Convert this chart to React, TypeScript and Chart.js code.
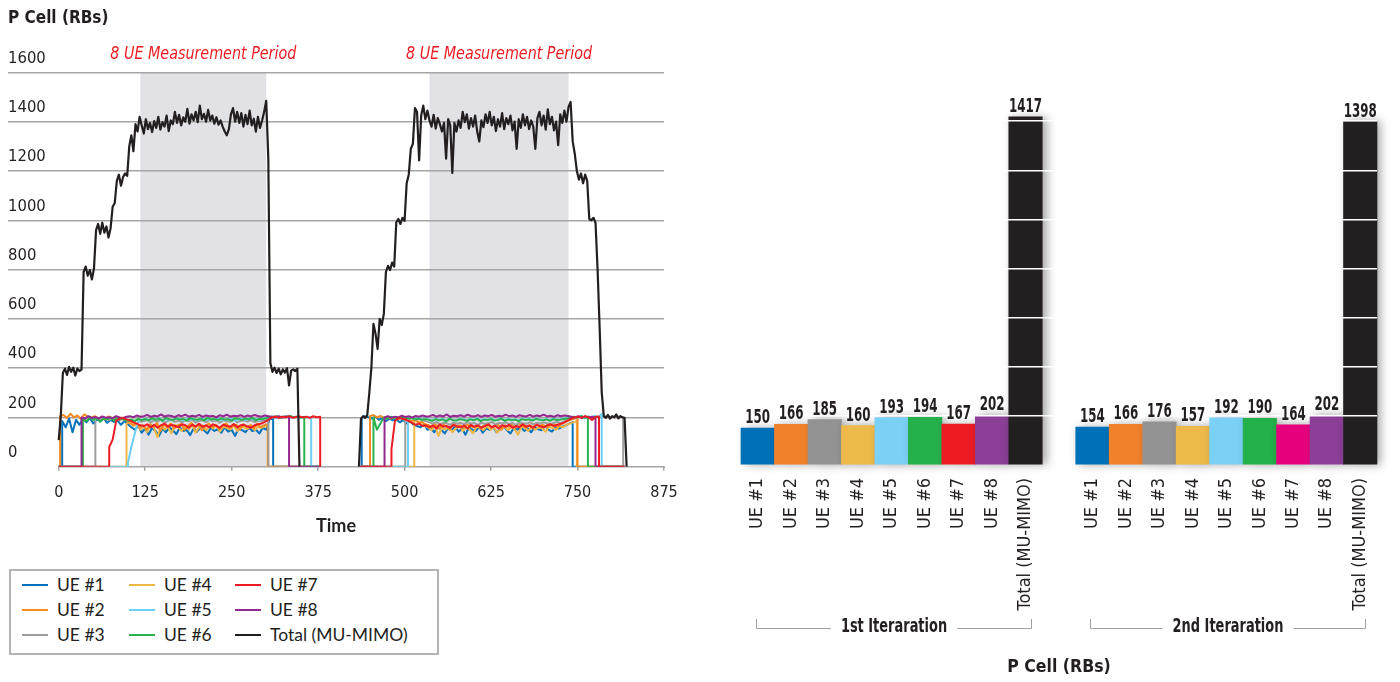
import React, { useEffect, useRef } from "react";
import { Chart, registerables } from "chart.js";

Chart.register(...registerables);

// ---------- fonts & colours ----------
const NARROW = "'Liberation Sans Narrow', 'Arial Narrow', 'DejaVu Sans Condensed', sans-serif";
const LATO = "Lato, 'Open Sans', sans-serif";
const INK = "#231f20";
const GRID = "#a5a5a5";
const SHADE = "#e1e1e6";
const RED_NOTE = "#ed1c24";

// ---------- series names & colours ----------
const UE_NAMES = ["UE #1", "UE #2", "UE #3", "UE #4", "UE #5", "UE #6", "UE #7", "UE #8"];
const TOTAL_NAME = "Total (MU-MIMO)";
const LINE_COLORS = ["#0072bc", "#f68b1f", "#9d9d9d", "#eeb645", "#6dcff6", "#2bb24c", "#ed1c24", "#92278f"];
const TOTAL_COLOR = "#231f20";
// drawing priority of the UE lines (lower = drawn on top)
const LINE_ORDER = [8, 6, 5, 7, 4, 3, 1, 2];

// ---------- time axis ----------
const TIME_MIN = -73.3;
const TIME_MAX = 875;
const TIME_TICKS = [0, 125, 250, 375, 500, 625, 750, 875];
const MEASUREMENT_PERIODS = [[118, 300], [536, 737]];
const MEASUREMENT_LABEL = "8 UE Measurement Period";
const ITERATION_WINDOWS = [[0, 378], [436, 818]];

// ---------- Total (MU-MIMO), sampled every 3 time units ----------
const TOTAL_STEP = 3;
const TOTAL_RUN_1_START = 0;
const TOTAL_RUN_1 = [
  108, 205, 380, 398, 372, 405, 385, 402, 370, 398, 388, 395,
  790, 812, 775, 798, 760, 805,
  960, 985, 945, 990, 950, 975, 930, 968,
  1055, 1070, 1160, 1185, 1140, 1175, 1190, 1180,
  1300, 1345, 1280, 1390, 1360, 1420,
  1385, 1352, 1410, 1370, 1395, 1358, 1402, 1375, 1420, 1368,
  1398, 1380, 1425, 1362, 1405, 1390, 1440, 1395, 1428, 1385,
  1418, 1400, 1452, 1392, 1430, 1405, 1440, 1398, 1465, 1410,
  1432, 1400, 1448, 1405, 1425, 1392, 1418, 1388, 1405, 1380,
  1360, 1345, 1370, 1430, 1455, 1400, 1440, 1395, 1435, 1380,
  1428, 1390, 1445, 1385, 1412, 1360, 1420, 1375, 1405, 1440,
  1485,
  1250, 420, 385, 402, 380, 398, 375, 395, 382, 400, 330, 390, 395, 388, 398, 0,
];
const TOTAL_RUN_2_START = 434;
const TOTAL_RUN_2 = [
  0,
  195, 205, 198, 208, 300, 402, 580, 540, 478, 600,
  575, 620, 790, 815, 798, 828, 812, 992, 1005, 985,
  1010, 998, 1150, 1185, 1290, 1310, 1455, 1440, 1243, 1425,
  1465, 1410, 1445,
  1405, 1380, 1428, 1372, 1415, 1390, 1360, 1395, 1250, 1410,
  1385, 1192, 1395, 1360, 1405, 1375, 1440, 1398, 1430, 1372,
  1415, 1380, 1425, 1360, 1320, 1405, 1378, 1430, 1395, 1440,
  1385, 1420, 1362, 1410, 1380, 1435, 1370, 1415, 1390, 1425,
  1365, 1400, 1290, 1410, 1375, 1430, 1385, 1420, 1370, 1405,
  1380, 1290, 1415, 1440, 1385, 1425, 1368, 1450, 1390, 1420,
  1365, 1400, 1305, 1430, 1395, 1445, 1400, 1460, 1480,
  1320, 1270, 1200, 1165, 1190, 1150, 1185, 1160, 1005, 1000,
  1010, 990, 800, 560, 300, 205, 198, 210, 195, 205,
  200, 212, 196, 205, 200, 198,
  0,
];

// ---------- per-UE resource blocks, sampled every 5 time units ----------
const UE_STEP = 5;
const UE_STARTS_ITER_1 = [5, 2, 53, 98, 100, 35, 73, 33];
const UE_STARTS_ITER_2 = [438, 450, 501, 514, 505, 455, 481, 471];

const UE1_ITER_1 = [
  185, 160, 195, 140, 190, 170, 195, 180, 198, 175,
  192, 185, 196, 178, 190, 182, 188, 170, 185, 172,
  160, 150, 165, 138, 155, 130, 158, 145, 125, 155,
  140, 160, 148, 132, 158, 145, 150, 128, 155, 142,
  160, 148, 135, 158, 145, 152, 138, 160, 142, 150,
  125, 155, 148, 140, 158, 145, 150, 135, 158, 150,
  195, 192,
];
const UE2_ITER_1 = [
  205, 210, 198, 215, 200, 208, 195, 212, 203, 198,
  205, 196, 200, 192, 204, 198, 190, 200, 195, 188,
  180, 170, 175, 160,
  168, 150, 172, 160, 178, 145, 170, 162, 175, 155,
  168, 172, 150, 165, 178, 158, 170, 148, 165, 175,
  160, 170, 152, 168, 176, 158, 165, 170, 150, 172,
  162, 168, 155, 175, 160, 168, 172,
];
const UE3_ITER_1 = [
  198, 192, 200, 195, 190, 198, 194, 188, 196, 192,
  188, 185, 190, 182,
  185, 190, 180, 188, 183, 192, 178, 186, 190, 182,
  187, 180, 189, 184, 191, 179, 186, 188, 181, 190,
  184, 187, 178, 189, 185, 182, 191, 180, 186, 188,
  183, 190, 181, 187, 185, 189, 192,
];
const UE4_ITER_1 = [
  175, 180, 165, 172, 150,
  165, 140, 172, 155, 120, 168, 150, 162, 135, 170,
  158, 145, 166, 152, 172, 138, 160, 168, 148, 165,
  155, 170, 142, 162, 158, 150, 168, 145, 165, 160,
  152, 170, 148, 162, 158, 165, 168,
];
const UE5_ITER_1 = [
  15, 80, 135, 185, 190,
  195, 188, 193, 190, 196, 186, 194, 191, 189, 197,
  192, 188, 195, 190, 193, 187, 196, 192, 189, 194,
  191, 197, 188, 193, 190, 195, 186, 192, 194, 189,
  196, 191, 193, 188, 195, 198,
  200, 205, 198, 203, 200, 206, 199, 202, 204, 198, 203, 200, 202,
];
const UE6_ITER_1 = [
  195, 185, 200, 190, 198, 182, 196, 192, 200, 188, 197, 193, 190, 186,
  192, 185, 195, 188,
  194, 188, 197, 190, 195, 186, 198, 192, 189, 196,
  191, 194, 187, 197, 193, 190, 195, 188, 198, 192,
  194, 189, 196, 191, 193, 187, 197, 194, 190, 195,
  192, 198, 188, 195, 193, 197,
  203, 200, 205, 198, 204, 201, 206, 199, 203, 200, 202,
];
const UE7_ITER_1 = [
  80, 110, 185, 195, 198, 192, 188, 180, 175, 168,
  165, 172, 160, 170, 158, 168, 175, 162, 170, 165,
  160, 172, 168, 158, 170, 164, 174, 162, 168, 160,
  172, 166, 158, 170, 165, 162, 173, 160, 168, 170,
  163, 158, 168, 172, 175, 182, 190,
  200, 204, 198, 203, 200, 205, 199, 202, 204, 200, 203, 198, 205, 201, 203,
];
const UE8_ITER_1 = [
  200, 195, 205, 198, 202, 196, 204, 199, 201, 197, 205, 200, 198, 203,
  205, 200, 208, 203,
  205, 210, 202, 207, 204, 212, 203, 208, 206, 201,
  209, 205, 211, 203, 207, 204, 210, 202, 208, 205,
  206, 200, 209, 204, 211, 203, 207, 205, 209, 202,
  208, 204, 210, 206, 203, 208, 205,
  203, 200, 205, 199, 204, 201,
];

const UE1_ITER_2 = [
  198, 205, 200, 195, 203, 190, 198, 185, 195, 188, 192, 180, 190, 175, 185, 170,
  165, 160, 172, 150,
  155, 140, 162, 150, 135, 158, 148, 165, 142, 155,
  130, 160, 150, 145, 162, 138, 155, 150, 160, 140,
  152, 165, 148, 135, 158, 150, 162, 145, 155, 140,
  160, 152, 148, 165, 150, 142, 158, 155, 162, 168,
  175, 180,
];
const UE2_ITER_2 = [
  205, 210, 200, 206, 198, 203, 195, 200, 192, 198, 190, 195, 185, 190, 178, 182, 172,
  168, 160, 172, 155, 170, 165, 150, 175, 162, 168,
  158, 172, 165, 160, 170, 155, 168, 175, 160, 165,
  172, 150, 168, 162, 170, 158, 175, 165, 160, 168,
  155, 172, 165, 170, 160, 168, 175, 162, 170, 178,
  185, 190, 195, 198,
];
const UE3_ITER_2 = [
  200, 196, 198, 190, 194, 188, 185,
  180, 175, 182, 172, 178, 176, 170, 180, 174, 178,
  172, 181, 175, 177, 170, 179, 174, 176, 182, 171,
  178, 175, 180, 173, 177, 170, 179, 176, 174, 181,
  172, 178, 175, 180, 176, 173, 178, 182, 176, 185, 190,
  198, 202, 200, 205, 198, 203, 200, 206, 199, 202, 204, 198, 203, 200, 205, 199,
];
const UE4_ITER_2 = [
  195, 185, 172, 165,
  160, 148, 165, 125, 158, 150, 162, 140, 155, 168,
  145, 160, 152, 135, 162, 158, 148, 165, 150, 160,
  138, 155, 165, 148, 160, 152, 130, 162, 158, 145,
  165, 150, 160, 155, 142, 162, 158, 150, 165, 160,
  170, 175, 180, 185,
];
const UE5_ITER_2 = [
  198, 200, 195, 198, 192, 195,
  192, 188, 195, 190, 194, 186, 196, 191, 189, 195,
  192, 188, 194, 190, 196, 187, 193, 191, 195, 189,
  192, 196, 188, 194, 190, 193, 187, 195, 191, 194,
  189, 196, 192, 190, 194, 188, 195, 191, 193, 196,
  198, 200,
  203, 200, 205, 198, 204, 201, 206, 200, 215,
];
const UE6_ITER_2 = [
  200, 150, 175, 200, 195, 203, 198, 200, 196, 202, 195, 198, 192, 195, 190, 193,
  190, 186, 193, 188, 192, 184, 194, 189, 187, 193,
  190, 186, 192, 188, 194, 185, 191, 189, 193, 187,
  190, 194, 186, 192, 188, 191, 185, 193, 189, 192,
  187, 194, 190, 188, 192, 186, 193, 189, 191, 194,
  196, 198,
  203, 200, 205, 199, 202,
];
const UE7_ITER_2 = [
  70, 185, 198, 195, 192, 185, 178, 170, 175, 165, 168,
  160, 168, 155, 172, 162, 165, 158, 170, 163, 160,
  167, 155, 170, 162, 168, 158, 165, 172, 160, 166,
  155, 168, 163, 170, 158, 165, 160, 172, 162, 167,
  158, 170, 164, 160, 168, 172, 165, 170, 175, 180, 188,
  195, 200, 203, 198, 205, 200, 190, 202, 204,
];
const UE8_ITER_2 = [
  200, 205, 198, 203, 200, 207, 202, 205, 199, 206, 203, 208, 204,
  205, 210, 203, 208, 204, 212, 202, 207, 205, 209,
  203, 211, 206, 204, 209, 202, 208, 205, 210, 203,
  207, 204, 211, 205, 208, 202, 209, 206, 204, 210,
  203, 208, 205, 211, 204, 207, 202, 209, 205, 208, 206,
  203, 200, 205, 199, 204, 201, 203, 200,
];

const UE_ITER_1 = [UE1_ITER_1, UE2_ITER_1, UE3_ITER_1, UE4_ITER_1, UE5_ITER_1, UE6_ITER_1, UE7_ITER_1, UE8_ITER_1];
const UE_ITER_2 = [UE1_ITER_2, UE2_ITER_2, UE3_ITER_2, UE4_ITER_2, UE5_ITER_2, UE6_ITER_2, UE7_ITER_2, UE8_ITER_2];

// ---------- average P Cell RBs during the measurement periods ----------
const ITER_1_AVERAGES = [150, 166, 185, 160, 193, 194, 167, 202];
const ITER_1_TOTAL = 1417;
const ITER_2_AVERAGES = [154, 166, 176, 157, 192, 190, 164, 202];
const ITER_2_TOTAL = 1398;
const BAR_COLORS_1 = ["#0071b9", "#f1812a", "#939393", "#ecb94a", "#7bd0f5", "#24b04b", "#ec1c24", "#8b3f96"];
const BAR_COLORS_2 = ["#0071b9", "#f1812a", "#939393", "#ecb94a", "#7bd0f5", "#24b04b", "#e6007e", "#8b3f96"];
const GROUP_LABELS = ["1st Iteraration", "2nd Iteraration"];

// ---------- helpers ----------
type Pt = { x: number; y: number | null };

function runPoints(start: number, step: number, values: number[]): Pt[] {
  return values.map((v, i) => ({ x: start + i * step, y: v }));
}

function ueSeries(s1: number, v1: number[], s2: number, v2: number[]): Pt[] {
  const [w1, w2] = ITERATION_WINDOWS;
  const r1 = runPoints(s1, UE_STEP, v1);
  const r2 = runPoints(s2, UE_STEP, v2);
  const e1 = r1[r1.length - 1].x;
  const e2 = r2[r2.length - 1].x;
  return [
    { x: w1[0], y: 0 }, { x: s1, y: 0 }, ...r1, { x: e1, y: 0 }, { x: Math.max(e1, w1[1]), y: 0 },
    { x: (w1[1] + w2[0]) / 2, y: null },
    { x: w2[0], y: 0 }, { x: s2, y: 0 }, ...r2, { x: e2, y: 0 }, { x: Math.max(e2, w2[1]), y: 0 },
  ];
}

function totalSeries(): Pt[] {
  return [
    ...runPoints(TOTAL_RUN_1_START, TOTAL_STEP, TOTAL_RUN_1),
    { x: (ITERATION_WINDOWS[0][1] + ITERATION_WINDOWS[1][0]) / 2, y: null },
    ...runPoints(TOTAL_RUN_2_START, TOTAL_STEP, TOTAL_RUN_2),
  ];
}

// text squeezed horizontally to mimic a condensed face
function fillCondensed(ctx: CanvasRenderingContext2D, text: string, x: number, y: number, sx: number) {
  ctx.save();
  ctx.translate(x, y);
  ctx.scale(sx, 1);
  ctx.fillText(text, 0, 0);
  ctx.restore();
}

// shaded measurement periods + their captions, drawn beneath the grid
const periodPlugin = {
  id: "periods",
  beforeDraw(chart: any) {
    const { ctx, scales } = chart;
    const xs = scales.x;
    const ys = scales.y;
    const top = ys.getPixelForValue(ys.max);
    const bottom = ys.getPixelForValue(0);
    ctx.save();
    MEASUREMENT_PERIODS.forEach(([a, b]) => {
      const x1 = xs.getPixelForValue(a);
      const x2 = xs.getPixelForValue(b);
      ctx.fillStyle = SHADE;
      ctx.fillRect(x1, top, x2 - x1, bottom - top);
      ctx.fillStyle = RED_NOTE;
      ctx.font = `italic 18.5px ${NARROW}`;
      ctx.textAlign = "center";
      ctx.textBaseline = "middle";
      fillCondensed(ctx, MEASUREMENT_LABEL, (x1 + x2) / 2, top - 18, 0.86);
    });
    ctx.restore();
  },
  beforeDatasetsDraw(chart: any) {
    const { ctx, scales } = chart;
    const xs = scales.x;
    const y0 = scales.y.getPixelForValue(0);
    ctx.save();
    ctx.strokeStyle = GRID;
    ctx.lineWidth = 1.5;
    ctx.beginPath();
    ctx.moveTo(xs.getPixelForValue(0), y0);
    ctx.lineTo(xs.getPixelForValue(TIME_MAX) + 1, y0);
    ctx.stroke();
    ctx.restore();
  },
};

// soft drop shadow behind the bars
const barShadowPlugin = {
  id: "barShadow",
  beforeDatasetsDraw(chart: any) {
    const ctx = chart.ctx;
    ctx.save();
    ctx.shadowColor = "rgba(0,0,0,0.35)";
    ctx.shadowBlur = 9;
    ctx.shadowOffsetX = 4;
    ctx.shadowOffsetY = 0;
  },
  afterDatasetsDraw(chart: any) {
    chart.ctx.restore();
  },
};

// value labels, group brackets and captions
const barAnnotationPlugin = {
  id: "barAnnotations",
  afterDraw(chart: any) {
    const { ctx, chartArea } = chart;
    const meta = chart.getDatasetMeta(0);
    const values = chart.data.datasets[0].data as (number | null)[];
    ctx.save();
    ctx.fillStyle = INK;
    ctx.font = `bold 20px ${NARROW}`;
    ctx.textAlign = "center";
    ctx.textBaseline = "alphabetic";
    meta.data.forEach((el: any, i: number) => {
      const v = values[i];
      if (v == null) return;
      fillCondensed(ctx, String(v), el.x, el.y - 5, 0.66);
    });

    const xs = chart.scales.x;
    const n = ITER_1_AVERAGES.length + 1;
    const groups = [
      [GROUP_LABELS[0], 0, n - 1],
      [GROUP_LABELS[1], n + 1, 2 * n],
    ] as [string, number, number][];
    const lineY = chartArea.bottom + 163;
    const sx = 0.72;
    ctx.font = `bold 20px ${NARROW}`;
    ctx.textBaseline = "middle";
    ctx.strokeStyle = "#a0a0a0";
    ctx.lineWidth = 1;
    groups.forEach(([label, from, to]) => {
      const xl = Math.round(xs.getPixelForValue(from) - 2) + 0.5;
      const xr = Math.round(xs.getPixelForValue(to) + 5) + 0.5;
      const cx = (xl + xr) / 2;
      const w = ctx.measureText(label).width * sx;
      ctx.beginPath();
      ctx.moveTo(xl, lineY - 9);
      ctx.lineTo(xl, lineY + 0.5);
      ctx.lineTo(cx - w / 2 - 10, lineY + 0.5);
      ctx.moveTo(cx + w / 2 + 10, lineY + 0.5);
      ctx.lineTo(xr, lineY + 0.5);
      ctx.lineTo(xr, lineY - 9);
      ctx.stroke();
      fillCondensed(ctx, label, cx, lineY - 1, sx);
    });
    ctx.restore();
  },
};

function buildLineChart(canvas: HTMLCanvasElement) {
  const ueSets = UE_NAMES.map((name, i) => ({
    label: name,
    data: ueSeries(UE_STARTS_ITER_1[i], UE_ITER_1[i], UE_STARTS_ITER_2[i], UE_ITER_2[i]),
    borderColor: LINE_COLORS[i],
    backgroundColor: LINE_COLORS[i],
    borderWidth: 2,
    order: LINE_ORDER[i],
  }));
  const totalSet = {
    label: TOTAL_NAME,
    data: totalSeries(),
    borderColor: TOTAL_COLOR,
    backgroundColor: TOTAL_COLOR,
    borderWidth: 2.2,
    order: 0,
  };
  return new Chart(canvas, {
    type: "line",
    data: { datasets: [...ueSets, totalSet] as any },
    plugins: [periodPlugin],
    options: {
      animation: false,
      responsive: false,
      parsing: false as any,
      spanGaps: false,
      layout: { padding: { left: 8, right: 36, top: 0, bottom: 0 } },
      elements: { point: { radius: 0 }, line: { tension: 0, borderJoinStyle: "round" } },
      plugins: {
        legend: { display: false },
        tooltip: { enabled: false },
        title: {
          display: true,
          text: "P Cell (RBs)",
          align: "start",
          color: INK,
          font: { family: NARROW, size: 17, weight: "bold" },
          padding: { top: 8, bottom: 44 },
        },
      },
      scales: {
        x: {
          type: "linear",
          min: TIME_MIN,
          max: TIME_MAX,
          afterBuildTicks: (s: any) => {
            s.ticks = TIME_TICKS.map((value) => ({ value }));
          },
          afterFit: (s: any) => {
            s.height = 93.3;
          },
          ticks: {
            color: INK,
            font: { family: NARROW, size: 16 },
            padding: 13,
            autoSkip: false,
            maxRotation: 0,
            callback: (v: any) => String(v),
          },
          grid: { drawOnChartArea: false, drawTicks: true, tickLength: 4, color: GRID, lineWidth: 1.5 },
          border: { display: false },
          title: {
            display: true,
            text: "Time",
            color: INK,
            font: { family: LATO, size: 18, weight: "bold" },
            padding: { top: 0, bottom: 23 },
          },
        },
        y: {
          type: "linear",
          min: 0,
          max: 1600,
          ticks: {
            stepSize: 200,
            mirror: true,
            padding: 0,
            labelOffset: -14,
            color: INK,
            font: { family: NARROW, size: 16.5 },
            callback: (v: any) => String(v),
          },
          grid: {
            color: (c: any) => (c.tick && c.tick.value === 0 ? "rgba(0,0,0,0)" : GRID),
            lineWidth: 1.5,
            drawTicks: false,
          },
          border: { display: false },
        },
      },
    } as any,
  });
}

function buildBarChart(canvas: HTMLCanvasElement) {
  const labels = [...UE_NAMES, TOTAL_NAME, "", ...UE_NAMES, TOTAL_NAME];
  const values = [...ITER_1_AVERAGES, ITER_1_TOTAL, null, ...ITER_2_AVERAGES, ITER_2_TOTAL];
  const colors = [...BAR_COLORS_1, TOTAL_COLOR, "rgba(0,0,0,0)", ...BAR_COLORS_2, TOTAL_COLOR];
  return new Chart(canvas, {
    type: "bar",
    data: {
      labels,
      datasets: [
        {
          data: values,
          backgroundColor: colors,
          borderWidth: 0,
          barPercentage: 1,
          categoryPercentage: 1,
          clip: false as any,
        },
      ],
    },
    plugins: [barShadowPlugin, barAnnotationPlugin],
    options: {
      animation: false,
      responsive: false,
      layout: { padding: { left: 41, right: 23, top: 72, bottom: 0 } },
      plugins: { legend: { display: false }, tooltip: { enabled: false } },
      scales: {
        x: {
          grid: { display: false, drawTicks: false },
          border: { display: false },
          afterFit: (s: any) => {
            s.height = 217;
          },
          ticks: {
            autoSkip: false,
            minRotation: 90,
            maxRotation: 90,
            padding: 13,
            color: INK,
            font: { family: NARROW, size: 18 },
          },
          title: {
            display: true,
            text: "P Cell (RBs)",
            color: INK,
            font: { family: NARROW, size: 17.5, weight: "bold" },
            padding: { top: 0, bottom: 4 },
          },
        },
        y: {
          min: 0,
          max: 1600,
          ticks: { display: false, stepSize: 200 },
          grid: {
            color: (c: any) =>
              c.tick && (c.tick.value === 0 || c.tick.value === 1600) ? "rgba(0,0,0,0)" : "#ffffff",
            lineWidth: 1.5,
            drawTicks: false,
            z: 1,
          },
          border: { display: false },
        },
      },
    } as any,
  });
}

const LEGEND_COLUMNS = [22, 129, 235];
const LEGEND_ROWS = [585, 610, 635];

export default function App() {
  const lineRef = useRef<HTMLCanvasElement>(null);
  const barRef = useRef<HTMLCanvasElement>(null);

  useEffect(() => {
    const line = buildLineChart(lineRef.current!);
    const bar = buildBarChart(barRef.current!);
    return () => {
      line.destroy();
      bar.destroy();
    };
  }, []);

  const legendNames = [...UE_NAMES, TOTAL_NAME];
  const legendColors = [...LINE_COLORS, TOTAL_COLOR];

  return (
    <div style={{ position: "absolute", left: 0, top: 0, width: 1400, height: 682, background: "#fff", overflow: "hidden" }}>
      <canvas
        ref={lineRef}
        width={700}
        height={560}
        style={{ position: "absolute", left: 0, top: 0, width: 700, height: 560, display: "block" }}
      />
      <canvas
        ref={barRef}
        width={700}
        height={682}
        style={{ position: "absolute", left: 700, top: 0, width: 700, height: 682, display: "block" }}
      />
      <div
        style={{
          position: "absolute",
          left: 9,
          top: 569,
          width: 430,
          height: 86,
          boxSizing: "border-box",
          border: "2px solid #b4b4b4",
        }}
      />
      {legendNames.map((name, i) => {
        const col = Math.floor(i / 3);
        const row = i % 3;
        const x = LEGEND_COLUMNS[col];
        const y = LEGEND_ROWS[row];
        return (
          <div key={name} style={{ position: "absolute", left: x, top: y - 12, height: 24, display: "flex", alignItems: "center" }}>
            <div style={{ width: 26, height: 2.5, background: legendColors[i] }} />
            <span
              style={{
                marginLeft: 9,
                fontFamily: LATO,
                fontSize: 17.5,
                color: INK,
                lineHeight: "24px",
                whiteSpace: "nowrap",
              }}
            >
              {name}
            </span>
          </div>
        );
      })}
    </div>
  );
}
